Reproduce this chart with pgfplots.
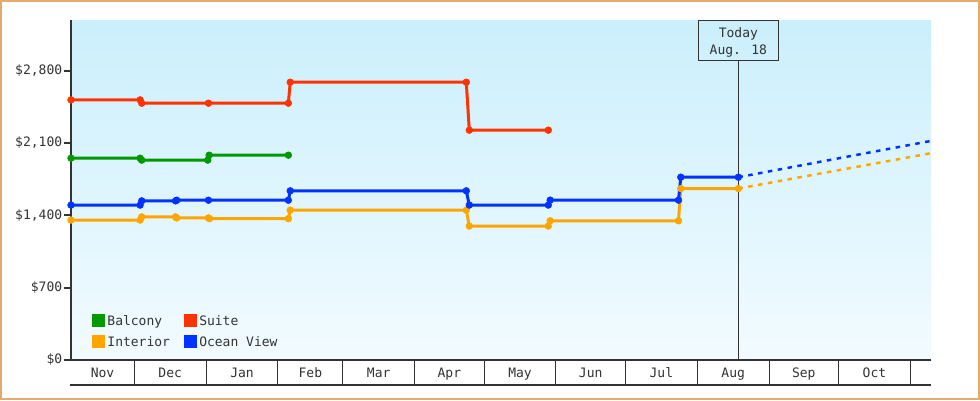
\documentclass[border=0pt]{standalone}
\usepackage{fontspec}
\setmainfont{DejaVu Sans Mono}
\usepackage{pgfplots}
\pgfplotsset{compat=1.18}

\definecolor{balcony}{HTML}{009900}
\definecolor{suite}{HTML}{FF3300}
\definecolor{interior}{HTML}{FFA500}
\definecolor{oceanview}{HTML}{0033FF}
\definecolor{frame}{HTML}{E8AA6C}
\definecolor{bgtop}{HTML}{CBEFFC}
\definecolor{bgbot}{HTML}{F2FBFF}
\definecolor{ink}{HTML}{333333}

\newcommand{\chartfont}{\fontsize{13pt}{17pt}\selectfont}

% x values are days counted from Nov 1
\begin{document}
\begin{tikzpicture}
\useasboundingbox (0,0) rectangle (980pt,400pt);
\fill[white] (0,0) rectangle (980pt,400pt);
\draw[frame, line width=2pt] (1pt,1pt) rectangle (979pt,399pt);
\begin{axis}[
  at={(71pt,40pt)}, anchor=south west,
  width=860pt, height=340pt, scale only axis,
  xmin=2.67, xmax=373.9, ymin=0, ymax=3290,
  clip=false,
  axis background/.style={top color=bgtop, bottom color=bgbot},
  axis x line=bottom, axis y line=left,
  x axis line style={-, draw=ink, line width=1.5pt},
  y axis line style={-, draw=ink, line width=2.5pt},
  tick align=outside, major tick length=7pt,
  ytick={0,700,1400,2100,2800},
  yticklabels={\$0,\$700,{\$1,400},{\$2,100},{\$2,800}},
  ytick style={draw=ink, line width=2pt},
  xtick={16.3,45.5,76.5,106,135.5,166,196.5,227,257.5,288.5,319,349.5},
  xticklabels={Nov,Dec,Jan,Feb,Mar,Apr,May,Jun,Jul,Aug,Sep,Oct},
  xtick style={draw=none},
  ticklabel style={font=\chartfont, text=ink},
  yticklabel style={inner sep=0pt, xshift=-1.6pt},
  xticklabel style={anchor=base, inner sep=0pt, yshift=-10.5pt},
  legend columns=2,
  legend style={at={(0.024,0.136)}, anchor=north west, draw=none, fill=none,
    inner sep=0pt, font=\chartfont, text=ink,
    cells={anchor=base west},
    nodes={inner sep=0pt, text height=10pt, text depth=3pt},
    row sep=7pt,
    /tikz/every odd column/.append style={column sep=2.6pt},
    /tikz/every even column/.append style={column sep=13.6pt}},
  legend image code/.code={\fill[#1] (0pt,0pt) rectangle (10pt,10pt);},
  every axis plot/.append style={line width=3pt, mark=*, mark size=3.4pt,
    mark options={solid, line width=0.5pt}},
]
% month cells under the axis
\pgfplotsinvokeforeach{30,61,92,120,151,181,212,242,273,304,334,365}{
  \draw[ink, line width=1pt] (axis cs:#1,0) -- ++(0pt,-25pt);
}
\draw[ink, line width=1.5pt] ([xshift=-1pt, yshift=-25pt]rel axis cs:0,0) -- ([yshift=-25pt]rel axis cs:1,0);

% today marker
\draw[ink, line width=1pt] (axis cs:290.75,0) -- (axis cs:290.75,2905);
\node[draw=ink, line width=1pt, minimum width=80pt, minimum height=40pt,
  inner sep=0pt, anchor=north] (today) at (axis cs:290.75,3290) {};
\node[align=center, font=\chartfont, text=ink, inner sep=0pt, yshift=-2pt]
  at (today.center) {Today\\Aug. 18};

\addplot[balcony] coordinates {
  (2.67,1953) (32.5,1953) (33.2,1934) (61.7,1934) (62.3,1982) (96.5,1982)
};
\addlegendentry{Balcony}

\addplot[suite] coordinates {
  (2.67,2517) (32.5,2517) (33.2,2485) (62,2485) (96.5,2485) (97.3,2688)
  (173.3,2688) (174.6,2224) (208.7,2224)
};
\addlegendentry{Suite}

\addplot[interior] coordinates {
  (2.67,1354) (32.5,1354) (33.2,1385) (47.8,1385) (48.3,1375) (62,1375)
  (62.5,1368) (96.5,1368) (97.3,1450) (173.3,1450) (174.6,1296) (208.7,1296)
  (209.5,1347) (264.9,1347) (265.9,1659) (290.75,1659)
};
\addlegendentry{Interior}

\addplot[oceanview] coordinates {
  (2.67,1499) (32.5,1499) (33.2,1540) (47.8,1540) (48.3,1546) (62,1546)
  (96.5,1546) (97.3,1637) (173.3,1637) (174.6,1499) (208.7,1499) (209.5,1547)
  (264.9,1547) (265.9,1769) (290.75,1769)
};
\addlegendentry{Ocean View}

% projections
\addplot[interior, forget plot, no marks, line width=2.5pt, dash pattern=on 4.5pt off 5.5pt]
  coordinates {(290.75,1659) (373.9,2001)};
\addplot[oceanview, forget plot, no marks, line width=2.5pt, dash pattern=on 4.5pt off 5.5pt]
  coordinates {(290.75,1769) (373.9,2120)};
\end{axis}
\end{tikzpicture}
\end{document}
